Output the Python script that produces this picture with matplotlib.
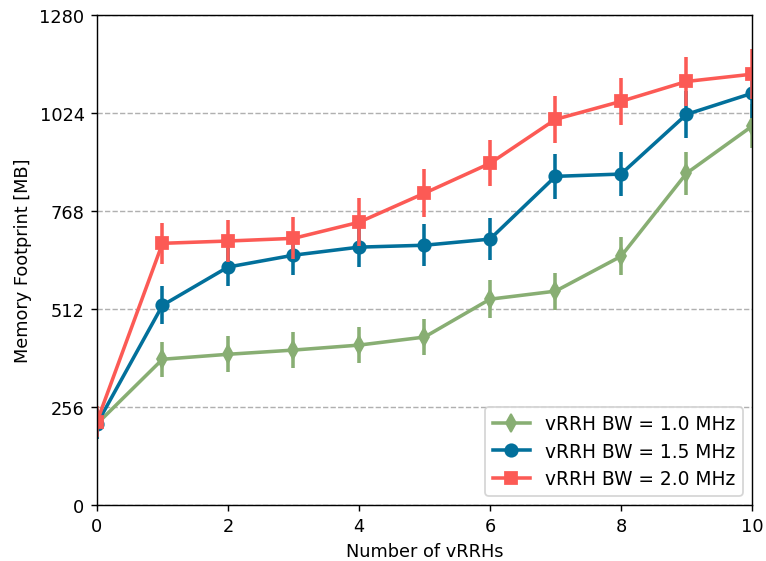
import numpy as np
import matplotlib
matplotlib.use('Agg')
import matplotlib.pyplot as plt

x = np.arange(0, 11)
bw10 = [212, 381, 394, 405, 418, 439, 538, 559, 650, 867, 990]
bw10_err = [40, 46, 47, 47, 48, 48, 50, 48, 50, 56, 58]
bw15 = [212, 522, 622, 653, 674, 679, 695, 859, 865, 1021, 1076]
bw15_err = [40, 50, 50, 52, 52, 55, 55, 58, 58, 62, 65]
bw20 = [218, 684, 690, 697, 739, 815, 893, 1008, 1055, 1107, 1126]
bw20_err = [40, 54, 54, 55, 63, 63, 60, 62, 62, 64, 65]
labels = ['vRRH BW = 1.0 MHz', 'vRRH BW = 1.5 MHz', 'vRRH BW = 2.0 MHz']

fig = plt.figure(figsize=(6, 4.4), dpi=127.67)
ax = fig.add_axes([0.1266, 0.0996, 0.8551, 0.8719])

series = [(bw10, bw10_err, '#88ae73', 'd'),
          (bw15, bw15_err, '#02709b', 'o'),
          (bw20, bw20_err, '#fc5a55', 's')]
for (y, err, c, m), lab in zip(series, labels):
    ax.errorbar(x, y, yerr=err, fmt='none', ecolor=c, elinewidth=2, capsize=0)
    ax.plot(x, y, color=c, marker=m, markersize=7, linewidth=2, label=lab)

ax.set_xlim(0, 10)
ax.set_ylim(0, 1280)
ax.set_yticks([0, 256, 512, 768, 1024, 1280])
ax.set_xticks([0, 2, 4, 6, 8, 10])
ax.yaxis.grid(True, linestyle='--', color='#b0b0b0', linewidth=0.8)
ax.set_axisbelow(True)
ax.set_xlabel('Number of vRRHs')
ax.set_ylabel('Memory Footprint [MB]')
ax.legend(loc='lower right', fontsize=10.5, labelspacing=0.45)

fig.savefig('out.png', dpi=127.67)
